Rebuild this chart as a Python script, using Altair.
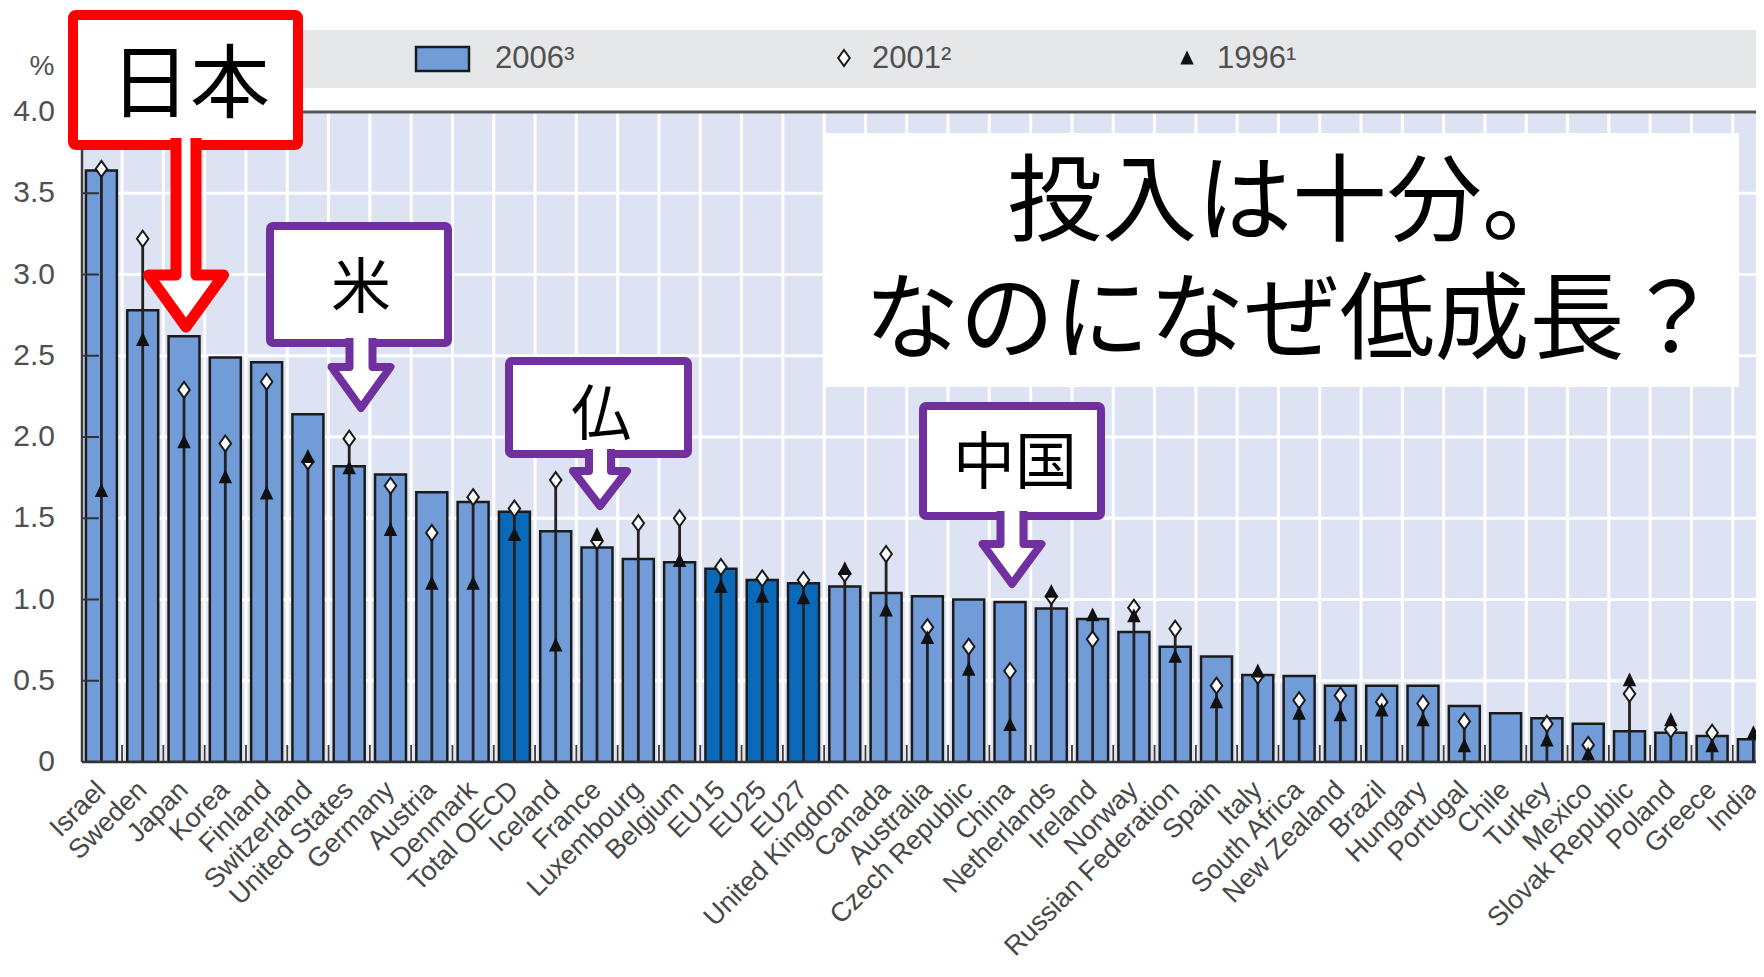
import altair as alt
import pandas as pd

# ---------------- data ----------------
countries = ["Israel", "Sweden", "Japan", "Korea", "Finland", "Switzerland", "United States",
             "Germany", "Austria", "Denmark", "Total OECD", "Iceland", "France", "Luxembourg",
             "Belgium", "EU15", "EU25", "EU27", "United Kingdom", "Canada", "Australia",
             "Czech Republic", "China", "Netherlands", "Ireland", "Norway", "Russian Federation",
             "Spain", "Italy", "South Africa", "New Zealand", "Brazil", "Hungary", "Portugal",
             "Chile", "Turkey", "Mexico", "Slovak Republic", "Poland", "Greece", "India"]
v2006 = [3.64, 2.78, 2.62, 2.49, 2.46, 2.14, 1.82, 1.77, 1.66, 1.60, 1.54, 1.42, 1.32, 1.25,
         1.23, 1.19, 1.12, 1.10, 1.08, 1.04, 1.02, 1.00, 0.985, 0.945, 0.88, 0.80, 0.71,
         0.65, 0.535, 0.53, 0.47, 0.47, 0.47, 0.345, 0.30, 0.27, 0.235, 0.19, 0.18, 0.16, 0.14]
v2001 = [3.65, 3.22, 2.29, 1.96, 2.34, 1.85, 1.99, 1.70, 1.41, 1.63, 1.56, 1.735, 1.36, 1.47,
         1.50, 1.20, 1.13, 1.12, 1.16, 1.28, 0.83, 0.71, 0.56, 1.02, 0.755, 0.95, 0.82,
         0.47, 0.53, 0.38, 0.41, 0.37, 0.36, 0.25, None, 0.235, 0.105, 0.42, 0.20, 0.18, None]
v1996 = [1.67, 2.60, 1.97, 1.755, 1.655, 1.88, 1.81, 1.43, 1.10, 1.10, 1.40, 0.72, 1.40, None,
         1.24, 1.08, 1.02, 1.01, 1.19, 0.935, 0.765, 0.57, 0.23, 1.05, 0.905, 0.90, 0.65,
         0.37, 0.56, 0.30, 0.29, 0.32, 0.26, 0.10, None, 0.135, 0.05, 0.505, 0.26, 0.10, 0.18]
aggregates = ["Total OECD", "EU15", "EU25", "EU27"]
y_ticks = [0, 0.5, 1.0, 1.5, 2.0, 2.5, 3.0, 3.5, 4.0]
legend_labels = ["2006³", "2001²", "1996¹"]
headline = ["投入は十分。", "なのになぜ低成長？"]
callouts = ["日本", "米", "仏", "中国"]

n = len(countries)
df = pd.DataFrame({"idx": list(range(n)), "country": countries,
                   "v2006": v2006, "v2001": v2001, "v1996": v1996})
df["grp"] = ["aggregate" if c in aggregates else "country" for c in countries]
bounds = pd.DataFrame({"b": [i + 0.5 for i in range(n - 1)]})
ticks_df = pd.DataFrame({"t": y_ticks})
one = pd.DataFrame({"a": [0]})

# ---------------- styles ----------------
W, H = 1674, 650
STEP = 41.3
X0 = -0.47
X1 = X0 + W / STEP
SANS = "Liberation Sans, Arial, sans-serif"
JP = "Noto Sans CJK JP"
LIGHT = "#719cd8"
DARK = "#0b69b9"
BG = "#dee3f3"
LABEL = "#505050"
RED = "#ff0000"
PURPLE = "#7030a0"
DIAMOND = "M0,-1 L0.72,0 L0,1 L-0.72,0 Z"
TRI = "M0,-1 L0.9,0.85 L-0.9,0.85 Z"

xscale = alt.Scale(domain=[X0, X1], nice=False, zero=False)
yscale = alt.Scale(domain=[0, 4], nice=False, zero=True)

base = alt.Chart(df)

# grid
hgrid = alt.Chart(ticks_df).mark_rule(color="white", strokeWidth=3).encode(
    y=alt.Y("t:Q", scale=yscale, axis=None), x=alt.value(0), x2=alt.value(W))
vgrid = alt.Chart(bounds).mark_rule(color="white", strokeWidth=3).encode(
    x=alt.X("b:Q", scale=xscale, axis=None), y=alt.value(0), y2=alt.value(H))

bars = base.mark_bar(clip=True, stroke="#1b1b1b", strokeWidth=2.5).transform_calculate(
    x1="datum.idx - 0.375", x2="datum.idx + 0.375"
).encode(
    x=alt.X("x1:Q", scale=xscale, axis=None),
    x2="x2:Q",
    y=alt.Y("v2006:Q", scale=yscale, axis=None),
    y2=alt.datum(0),
    color=alt.Color("grp:N", scale=alt.Scale(domain=["country", "aggregate"], range=[LIGHT, DARK]),
                    legend=None),
)

bottom_ticks = alt.Chart(bounds).mark_rule(color="#3a3a3a", strokeWidth=1.8).encode(
    x=alt.X("b:Q", scale=xscale, axis=None), y=alt.value(H - 17), y2=alt.value(H))

stems = base.mark_rule(color="#222222", strokeWidth=2.8, clip=True).transform_calculate(
    top="max(isValid(datum.v2001) ? datum.v2001 : 0, isValid(datum.v1996) ? datum.v1996 : 0)"
).transform_filter("datum.top > 0").encode(
    x=alt.X("idx:Q", scale=xscale, axis=None),
    y=alt.Y("top:Q", scale=yscale, axis=None),
    y2=alt.datum(0),
)

diamonds = base.mark_point(shape=DIAMOND, size=256, filled=True, fill="white", stroke="#1a1a1a",
                           strokeWidth=2, opacity=1, clip=True).transform_filter(
    "isValid(datum.v2001)").encode(
    x=alt.X("idx:Q", scale=xscale, axis=None), y=alt.Y("v2001:Q", scale=yscale, axis=None))

triangles = base.mark_point(shape=TRI, size=225, filled=True, color="#111111", opacity=1,
                            clip=True).transform_filter("isValid(datum.v1996)").encode(
    x=alt.X("idx:Q", scale=xscale, axis=None), y=alt.Y("v1996:Q", scale=yscale, axis=None))

ytick_marks = alt.Chart(ticks_df).mark_rule(color="#333333", strokeWidth=2).encode(
    y=alt.Y("t:Q", scale=yscale, axis=None), x=alt.value(0), x2=alt.value(17))

left_line = alt.Chart(one).mark_rule(color="#3c3c3c", strokeWidth=2.5).encode(
    x=alt.value(0), y=alt.value(0), y2=alt.value(H))
top_line = alt.Chart(one).mark_rule(color="#555555", strokeWidth=3).encode(
    x=alt.value(0), x2=alt.value(W), y=alt.value(0))
base_line = alt.Chart(one).mark_rule(color="#333333", strokeWidth=2.5).encode(
    x=alt.value(0), x2=alt.value(W), y=alt.value(H))

# axis labels (drawn as text through the scales)
ylabels = alt.Chart(ticks_df).transform_calculate(
    lab="datum.t == 0 ? '0' : format(datum.t, '.1f')"
).mark_text(font=SANS, fontSize=30, color=LABEL, align="right", baseline="middle").encode(
    y=alt.Y("t:Q", scale=yscale, axis=None), x=alt.value(-27), text="lab:N")

xlabels = base.mark_text(font=SANS, fontSize=27, color="#474747", align="right",
                         baseline="middle", angle=315).encode(
    x=alt.X("idx:Q", scale=xscale, axis=None), y=alt.value(H + 24), text="country:N")

# ---------------- legend band ----------------
band = alt.Chart(one).mark_rect(color="#e6e7e9").encode(
    x=alt.value(-14), x2=alt.value(W), y=alt.value(-82), y2=alt.value(-24))
swatch = alt.Chart(one).mark_rect(fill=LIGHT, stroke="#1b1b1b", strokeWidth=2.5).encode(
    x=alt.value(334), x2=alt.value(387), y=alt.value(-65), y2=alt.value(-41))
leg_d = alt.Chart(one).mark_point(shape=DIAMOND, size=256, filled=True, fill="white",
                                  stroke="#1a1a1a", strokeWidth=2, opacity=1).encode(
    x=alt.value(762), y=alt.value(-54))
leg_t = alt.Chart(one).mark_point(shape=TRI, size=225, filled=True, color="#111111",
                                  opacity=1).encode(x=alt.value(1105), y=alt.value(-54))


def txt(s, x, y, size, font=SANS, color=LABEL, align="left", baseline="middle", **kw):
    return alt.Chart(one).mark_text(text=s, font=font, fontSize=size, color=color, align=align,
                                    baseline=baseline, **kw).encode(
        x=alt.value(x), y=alt.value(y))


leg_txt = [txt(legend_labels[0], 413, -53, 31), txt(legend_labels[1], 790, -53, 31),
           txt(legend_labels[2], 1135, -53, 31)]
pct = txt("%", -40, -45, 28, align="center")

# ---------------- annotations ----------------
text_box = alt.Chart(one).mark_rect(color="white").encode(
    x=alt.value(743), x2=alt.value(1657), y=alt.value(21), y2=alt.value(275))
heading = txt(headline, 1210, 122, 95, font=JP, color="black", align="center",
              baseline="alphabetic", lineHeight=118)


def box(x1, x2, y1, y2, color, sw):
    return alt.Chart(one).mark_rect(fill="white", stroke=color, strokeWidth=sw,
                                    cornerRadius=3).encode(
        x=alt.value(x1), x2=alt.value(x2), y=alt.value(y1), y2=alt.value(y2))


def arrow(path, x, y, color, sw):
    return alt.Chart(one).mark_point(shape=path, size=4, filled=True, fill="white", stroke=color,
                                     strokeWidth=sw, strokeJoin="round", opacity=1).encode(
        x=alt.value(x), y=alt.value(y))


red_box = box(-9, 216, -97, 33, RED, 10)
red_arrow = arrow("M-10,-189 L-10,-52 L-37.5,-52 L0,0 L37.5,-52 L10,-52 L10,-189",
                  104, 215, RED, 11)
red_txt = txt(callouts[0], 108, -1, 80, font=JP, color="black", align="center",
              baseline="alphabetic")

us_box = box(188, 366, 114, 231, PURPLE, 8)
us_arrow = arrow("M-11.5,-70 L-11.5,-41 L-29.5,-41 L0,0 L29.5,-41 L11.5,-41 L11.5,-70",
                 279, 296, PURPLE, 8)
us_txt = txt(callouts[1], 279, 196, 60, font=JP, color="black", align="center",
             baseline="alphabetic")

fr_box = box(427, 606, 249, 342, PURPLE, 8)
fr_arrow = arrow("M-11,-57 L-11,-35 L-27,-35 L0,0 L27,-35 L11,-35 L11,-57",
                 518, 394, PURPLE, 8)
fr_txt = txt(callouts[2], 519, 323, 60, font=JP, color="black", align="center",
             baseline="alphabetic")

cn_box = box(841, 1019, 294, 404, PURPLE, 8)
cn_arrow = arrow("M-11.5,-73 L-11.5,-40 L-29.5,-40 L0,0 L29.5,-40 L11.5,-40 L11.5,-73",
                 930, 472, PURPLE, 8)
cn_txt = txt(callouts[3], 933, 372, 62, font=JP, color="black", align="center",
             baseline="alphabetic")

chart = alt.layer(
    hgrid, vgrid, bars, bottom_ticks, stems, diamonds, triangles, ytick_marks,
    left_line, top_line, base_line, ylabels, xlabels,
    band, swatch, leg_d, leg_t, *leg_txt, pct,
    text_box, heading,
    red_box, red_arrow, red_txt,
    us_box, us_arrow, us_txt,
    fr_box, fr_arrow, fr_txt,
    cn_box, cn_arrow, cn_txt,
).properties(
    width=W, height=H,
    padding={"left": 74, "top": 104, "right": 0, "bottom": 200},
    autosize=alt.AutoSizeParams(type="none"),
    background="white",
).configure_view(fill=BG, stroke=None)

chart.save("out.html", embed_options={"renderer": "svg", "actions": False})
